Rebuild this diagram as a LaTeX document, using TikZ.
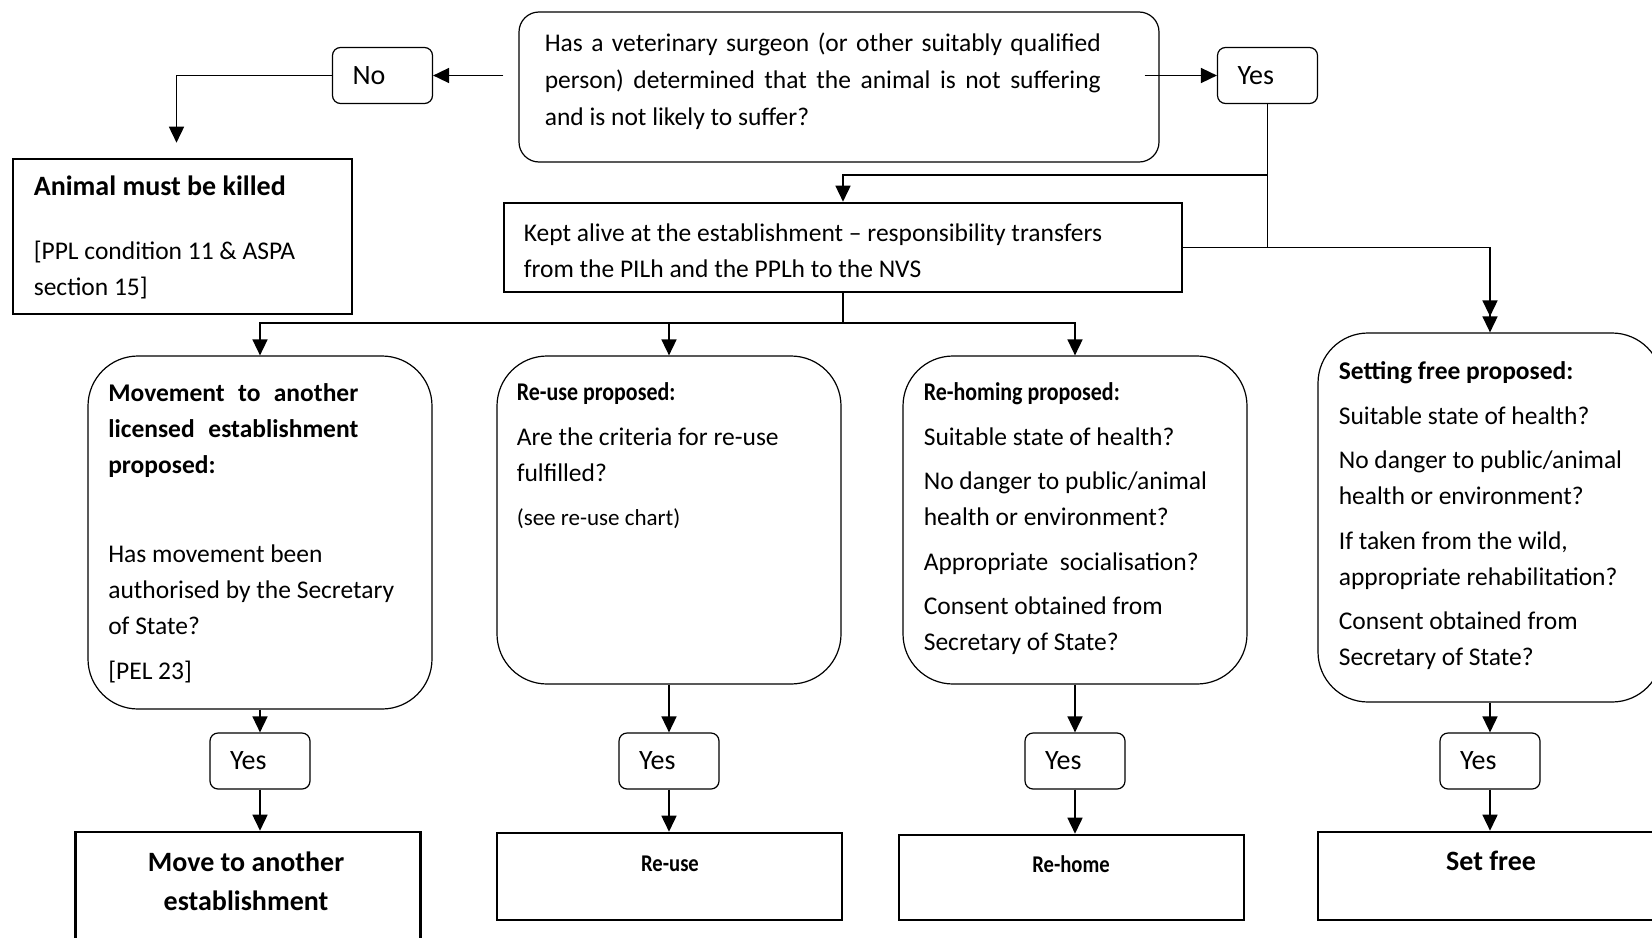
\documentclass[tikz,border=0pt]{standalone}
\usepackage{fontspec}
\setmainfont{Carlito}
\newfontfamily\narrowfont[FakeStretch=0.86]{Carlito}
\usetikzlibrary{arrows.meta}

\begin{document}
\begin{tikzpicture}[x=0.5pt,y=-0.5pt,line width=0.8pt,>={Triangle[length=8pt,width=7.5pt]},
  every node/.style={font=\fontsize{12.75}{18}\selectfont},
  tag/.style={draw,rounded corners=4pt,line width=0.6pt,minimum height=28pt,inner xsep=10pt,text width=30pt,align=left,font=\fontsize{14}{16}\selectfont},
  ask/.style={draw,rounded corners=25pt,line width=0.6pt,minimum width=172pt,inner sep=0pt},
  result/.style={draw,line width=1.3pt,minimum width=172.5pt,inner sep=0pt},
  txt/.style={anchor=north west,inner sep=0pt,align=left}]

\clip (0,0) rectangle (1652,937);

%question
\node[draw,rounded corners=10pt,line width=0.6pt,minimum width=320pt,minimum height=75pt,inner sep=0pt] (q) at (839,87) {};
\node[txt,font=\fontsize{12.75}{18.5}\selectfont] (qtxt) at (544,32) {\makebox[278pt][s]{Has a veterinary surgeon (or other suitably qualified}\\
  \makebox[278pt][s]{person) determined that the animal is not suffering}\\ and is not likely to suffer?};
\node[tag] (no) at (382.5,75.5) {No};
\node[tag] (yes) at (1267.5,75.5) {Yes};

\node[draw,line width=1.3pt,minimum width=169.5pt,minimum height=77.5pt,inner sep=0pt] (kill) at (182.5,236.5) {};
\node[txt] (killtxt) at (33,175) {{\fontsize{14}{16}\selectfont\bfseries Animal must be killed}\\[14pt]
  [PPL condition 11 \& ASPA\\ section 15]};

\node[draw,line width=1.3pt,minimum width=339pt,minimum height=44.5pt,inner sep=0pt] (kept) at (843,247.5) {};
\node[txt] (kepttxt) at (523,223) {Kept alive at the establishment – responsibility transfers\\ from the PILh and the PPLh to the NVS};

%proposals
\node[ask,minimum height=176.5pt] (move) at (260,532.5) {};
\node[ask,minimum height=164pt] (reuse) at (669,520) {};
\node[ask,minimum height=164pt] (rehome) at (1075,520) {};
\node[ask,minimum height=184.5pt] (free) at (1490,517.5) {};

\node[txt] (movetxt) at (107.5,383) {\makebox[125pt][s]{\bfseries Movement to another}\\
  \makebox[125pt][s]{\bfseries licensed establishment}\\ \textbf{proposed:}\\[4.25pt] \mbox{}\\[4.25pt]
  Has movement been\\ authorised by the Secretary\\ of State?\\[4.25pt] [PEL 23]};
\node[txt] (reusetxt) at (516,382) {{\narrowfont\bfseries Re-use proposed:}\\[4.5pt] Are the criteria for re-use\\ fulfilled?\\[4pt]
  {\fontsize{11.5}{18}\selectfont (see re-use chart)}};
\node[txt] (rehometxt) at (923,382) {{\narrowfont\bfseries Re-homing proposed:}\\[4.25pt] Suitable state of health?\\[4.25pt]
  No danger to public/animal\\ health or environment?\\[4.25pt] Appropriate\ \ socialisation?\\[4.25pt]
  Consent obtained from\\ Secretary of State?};
\node[txt] (freetxt) at (1338,361) {\textbf{Setting free proposed:}\\[4.25pt] Suitable state of health?\\[4.25pt]
  No danger to public/animal\\ health or environment?\\[4.25pt] If taken from the wild,\\ appropriate rehabilitation?\\[4.25pt]
  Consent obtained from\\ Secretary of State?};

%yes + outcome
\node[tag] (yes1) at (260,761) {Yes};
\node[tag] (yes2) at (669,761) {Yes};
\node[tag] (yes3) at (1075,761) {Yes};
\node[tag] (yes4) at (1490,761) {Yes};

\node[result,minimum height=65pt] (res1) at (248,897) {};
\node[result,minimum height=43.5pt] (res2) at (669.5,876.5) {};
\node[result,minimum height=42.5pt] (res3) at (1071.5,877.5) {};
\node[result,minimum height=44pt] (res4) at (1490.5,876) {};

\node[anchor=north,inner sep=0pt,align=center,font=\fontsize{14}{19.5}\selectfont\bfseries] (res1txt) at (246,851) {Move to another\\ establishment};
\node[anchor=north,inner sep=0pt,font=\fontsize{12}{18}\narrowfont\bfseries] (res2txt) at (670,855) {Re-use};
\node[anchor=north,inner sep=0pt,font=\fontsize{12}{18}\narrowfont\bfseries] (res3txt) at (1071,855) {Re-home};
\node[anchor=north,inner sep=0pt,font=\fontsize{14}{18}\selectfont\bfseries] (res4txt) at (1491,850) {Set free};

%connectors
\coordinate (qw) at ([xshift=-7.5pt]q.west);
\coordinate (qe) at ([xshift=-7.5pt]q.east);
\draw[->] (qw |- no) -- (no);
\draw[->] (qe |- yes) -- (yes);
\draw[->,shorten >=7.5pt] (no) -| ([xshift=-3pt]kill.north);

\coordinate (b1) at (1267.5,175);
\draw (yes) -- (yes |- kept.east);
\draw[->] (b1) -| (kept);
\draw[->>] (kept) -| (free);

\coordinate (split) at (843,323);
\draw (kept) -- (split);
\draw[->] (split) -| (move);
\draw[->] (split) -| (reuse);
\draw[->] (split) -| (rehome);

\draw[->] (move) -- (yes1);
\draw[->] (reuse) -- (yes2);
\draw[->] (rehome) -- (yes3);
\draw[->] (free) -- (yes4);
\draw[->] (yes1) -- (yes1 |- res1.north);
\draw[->] (yes2) -- (yes2 |- res2.north);
\draw[->] (yes3) -- (yes3 |- res3.north);
\draw[->] (yes4) -- (yes4 |- res4.north);
\end{tikzpicture}
\end{document}
